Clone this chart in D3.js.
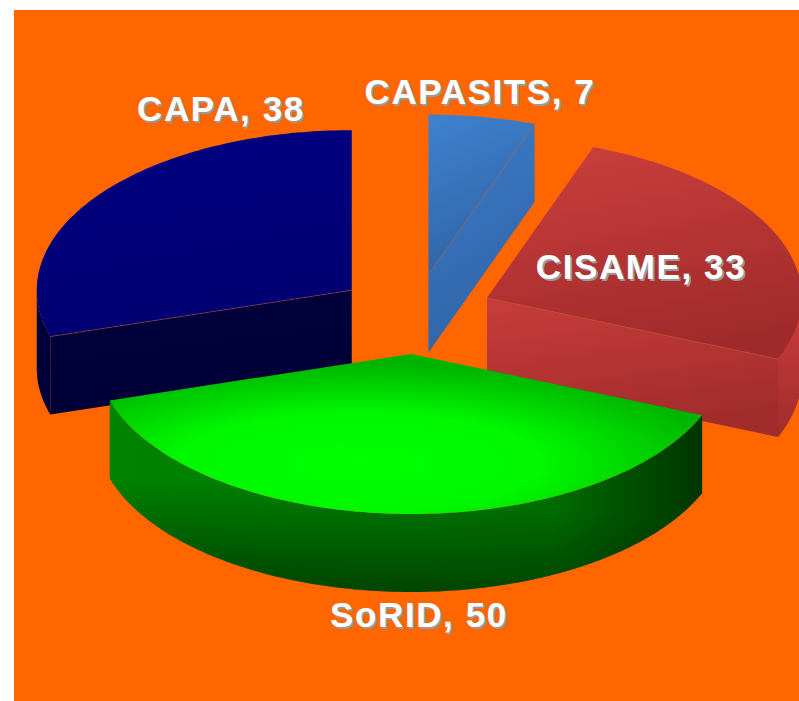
<!DOCTYPE html>
<html>
<head>
<meta charset="utf-8">
<script src="https://cdn.jsdelivr.net/npm/d3@7"></script>
<style>
  html, body { margin: 0; padding: 0; background: #ffffff; }
  svg { display: block; }
  .slice-label { font-family: "Liberation Sans", Arial, sans-serif; font-weight: bold; font-size: 35px; letter-spacing: 1.6px; }
</style>
</head>
<body>
<svg id="chart"></svg>
<script>
(function() {

  // data
  const categories = ['CAPASITS', 'CISAME', 'SoRID', 'CAPA'];
  const values = [7, 33, 50, 38];

  // look
  const topColors = {
    CAPASITS: ['#3e80cd', '#2f63a4'],
    CISAME: ['#ca3f3c', '#a02a2b'],
    CAPA: ['#000082', '#000070']
  };
  const sideColors = {
    CAPASITS: ['#3d7dca', '#3064a8'],
    CISAME: ['#c83d3b', '#a22c2c'],
    SoRID: ['#008000', '#003800'],
    CAPA: ['#00003e', '#000036']
  };
  const labelPos = {
    CAPASITS: [480, 104],
    CISAME: [641, 279],
    SoRID: [419, 627],
    CAPA: [221, 121]
  };

  const width = 799;
  const height = 701;
  const center = { x: 415, y: 314 };
  const rx = 315;
  const ry = 160;
  const depth = 78;
  const explode = 0.25;

  const svg = d3.select('#chart')
    .attr('width', width)
    .attr('height', height);

  svg.append('rect')
    .attr('x', 14).attr('y', 10)
    .attr('width', width - 14).attr('height', height - 10)
    .attr('fill', '#ff6600');

  // model units (-1..1) to screen
  const sx = d3.scaleLinear().domain([-1, 1]).range([center.x - rx, center.x + rx]);
  const sy = d3.scaleLinear().domain([-1, 1]).range([center.y + ry, center.y - ry]);

  const pie = d3.pie().sort(null).value(function(d, i) { return values[i]; });
  const arcs = pie(categories);

  const defs = svg.append('defs');
  function linGrad(id, stops, x1, y1, x2, y2) {
    const g = defs.append('linearGradient').attr('id', id)
      .attr('x1', x1).attr('y1', y1).attr('x2', x2).attr('y2', y2);
    stops.forEach(function(s, k) {
      g.append('stop')
        .attr('offset', Array.isArray(s) ? s[0] : (k / (stops.length - 1)))
        .attr('stop-color', Array.isArray(s) ? s[1] : s)
        .attr('stop-opacity', Array.isArray(s) && s.length > 2 ? s[2] : 1);
    });
    return 'url(#' + id + ')';
  }

  const line = d3.line();

  const slices = arcs.map(function(a, i) {
    const name = categories[i];
    const mid = (a.startAngle + a.endAngle) / 2;
    const ox = explode * Math.sin(mid);
    const oy = explode * Math.cos(mid);
    function pt(r, ang, h) {
      return [sx(ox + r * Math.sin(ang)), sy(oy + r * Math.cos(ang)) + (h || 0)];
    }
    function arcPts(a0, a1, h) {
      const n = Math.max(2, Math.ceil(Math.abs(a1 - a0) / (Math.PI / 180)));
      return d3.range(n + 1).map(function(k) {
        return pt(1, a0 + (a1 - a0) * k / n, h);
      });
    }
    return { name: name, a: a, mid: mid, pt: pt, arcPts: arcPts, i: i };
  });

  // back to front
  slices.sort(function(p, q) { return Math.cos(q.mid) - Math.cos(p.mid); });

  const g = svg.append('g');

  slices.forEach(function(s) {
    const a0 = s.a.startAngle;
    const a1 = s.a.endAngle;
    const sg = g.append('g').attr('class', 'slice');
    const sc = sideColors[s.name];

    // cut faces
    [[a0, a0 - Math.PI / 2], [a1, a1 + Math.PI / 2]].forEach(function(f, k) {
      if (Math.cos(f[1]) < -0.01) {
        const pts = [s.pt(0, 0, 0), s.pt(1, f[0], 0), s.pt(1, f[0], depth), s.pt(0, 0, depth)];
        sg.append('path')
          .attr('d', line(pts) + 'Z')
          .attr('fill', linGrad('cut-' + s.i + '-' + k, sc, '0%', '0%', '30%', '100%'));
      }
    });

    // outer rim (front half only)
    const r0 = Math.max(a0, Math.PI / 2);
    const r1 = Math.min(a1, Math.PI * 1.5);
    if (r1 > r0) {
      const pts = s.arcPts(r0, r1, 0).concat(s.arcPts(r1, r0, depth));
      const d = line(pts) + 'Z';
      if (s.name === 'SoRID') {
        sg.append('path').attr('d', d)
          .attr('fill', linGrad('rim-' + s.i, [[0, '#008400'], [0.45, '#007800'], [0.75, '#006c00'], [1, '#003400']], '0%', '0%', '100%', '0%'));
        sg.append('path').attr('d', d)
          .attr('fill', linGrad('rimdark-' + s.i, [[0, '#000000', 0], [0.5, '#000000', 0], [1, '#000000', 0.45]], '60%', '0%', '35%', '100%'));
      } else {
        sg.append('path').attr('d', d)
          .attr('fill', linGrad('rim-' + s.i, sc, '0%', '0%', '0%', '100%'));
      }
    }

    // top face
    let topFill;
    if (s.name === 'SoRID') {
      const tg = defs.append('radialGradient').attr('id', 'top-' + s.i)
        .attr('cx', '42%').attr('cy', '68%').attr('r', '62%');
      tg.append('stop').attr('offset', '0%').attr('stop-color', '#00ff00');
      tg.append('stop').attr('offset', '50%').attr('stop-color', '#00f800');
      tg.append('stop').attr('offset', '100%').attr('stop-color', '#00b400');
      topFill = 'url(#top-' + s.i + ')';
    } else {
      topFill = linGrad('top-' + s.i, topColors[s.name], '20%', '0%', '50%', '100%');
    }
    const topPts = [s.pt(0, 0, 0)].concat(s.arcPts(a0, a1, 0));
    sg.append('path')
      .attr('d', line(topPts) + 'Z')
      .attr('fill', topFill);

    // thin seam along visible cut edges
    [[a0, a0 - Math.PI / 2], [a1, a1 + Math.PI / 2]].forEach(function(f) {
      if (Math.cos(f[1]) < -0.01) {
        sg.append('path')
          .attr('d', line([s.pt(0, 0, 0), s.pt(1, f[0], 0)]))
          .attr('stroke', '#b0603a')
          .attr('stroke-opacity', 0.6)
          .attr('stroke-width', 0.8)
          .attr('fill', 'none');
      }
    });
  });

  // labels: grey shadow copy, then white text
  const labels = svg.append('g');
  categories.forEach(function(c, i) {
    const p = labelPos[c];
    const txt = c + ', ' + values[i];
    labels.append('text')
      .attr('class', 'slice-label')
      .attr('x', p[0] + 2).attr('y', p[1] + 2)
      .attr('text-anchor', 'middle')
      .attr('fill', '#9a9a9a')
      .text(txt);
    labels.append('text')
      .attr('class', 'slice-label')
      .attr('x', p[0]).attr('y', p[1])
      .attr('text-anchor', 'middle')
      .attr('fill', '#ffffff')
      .text(txt);
  });

})();
</script>
</body>
</html>
